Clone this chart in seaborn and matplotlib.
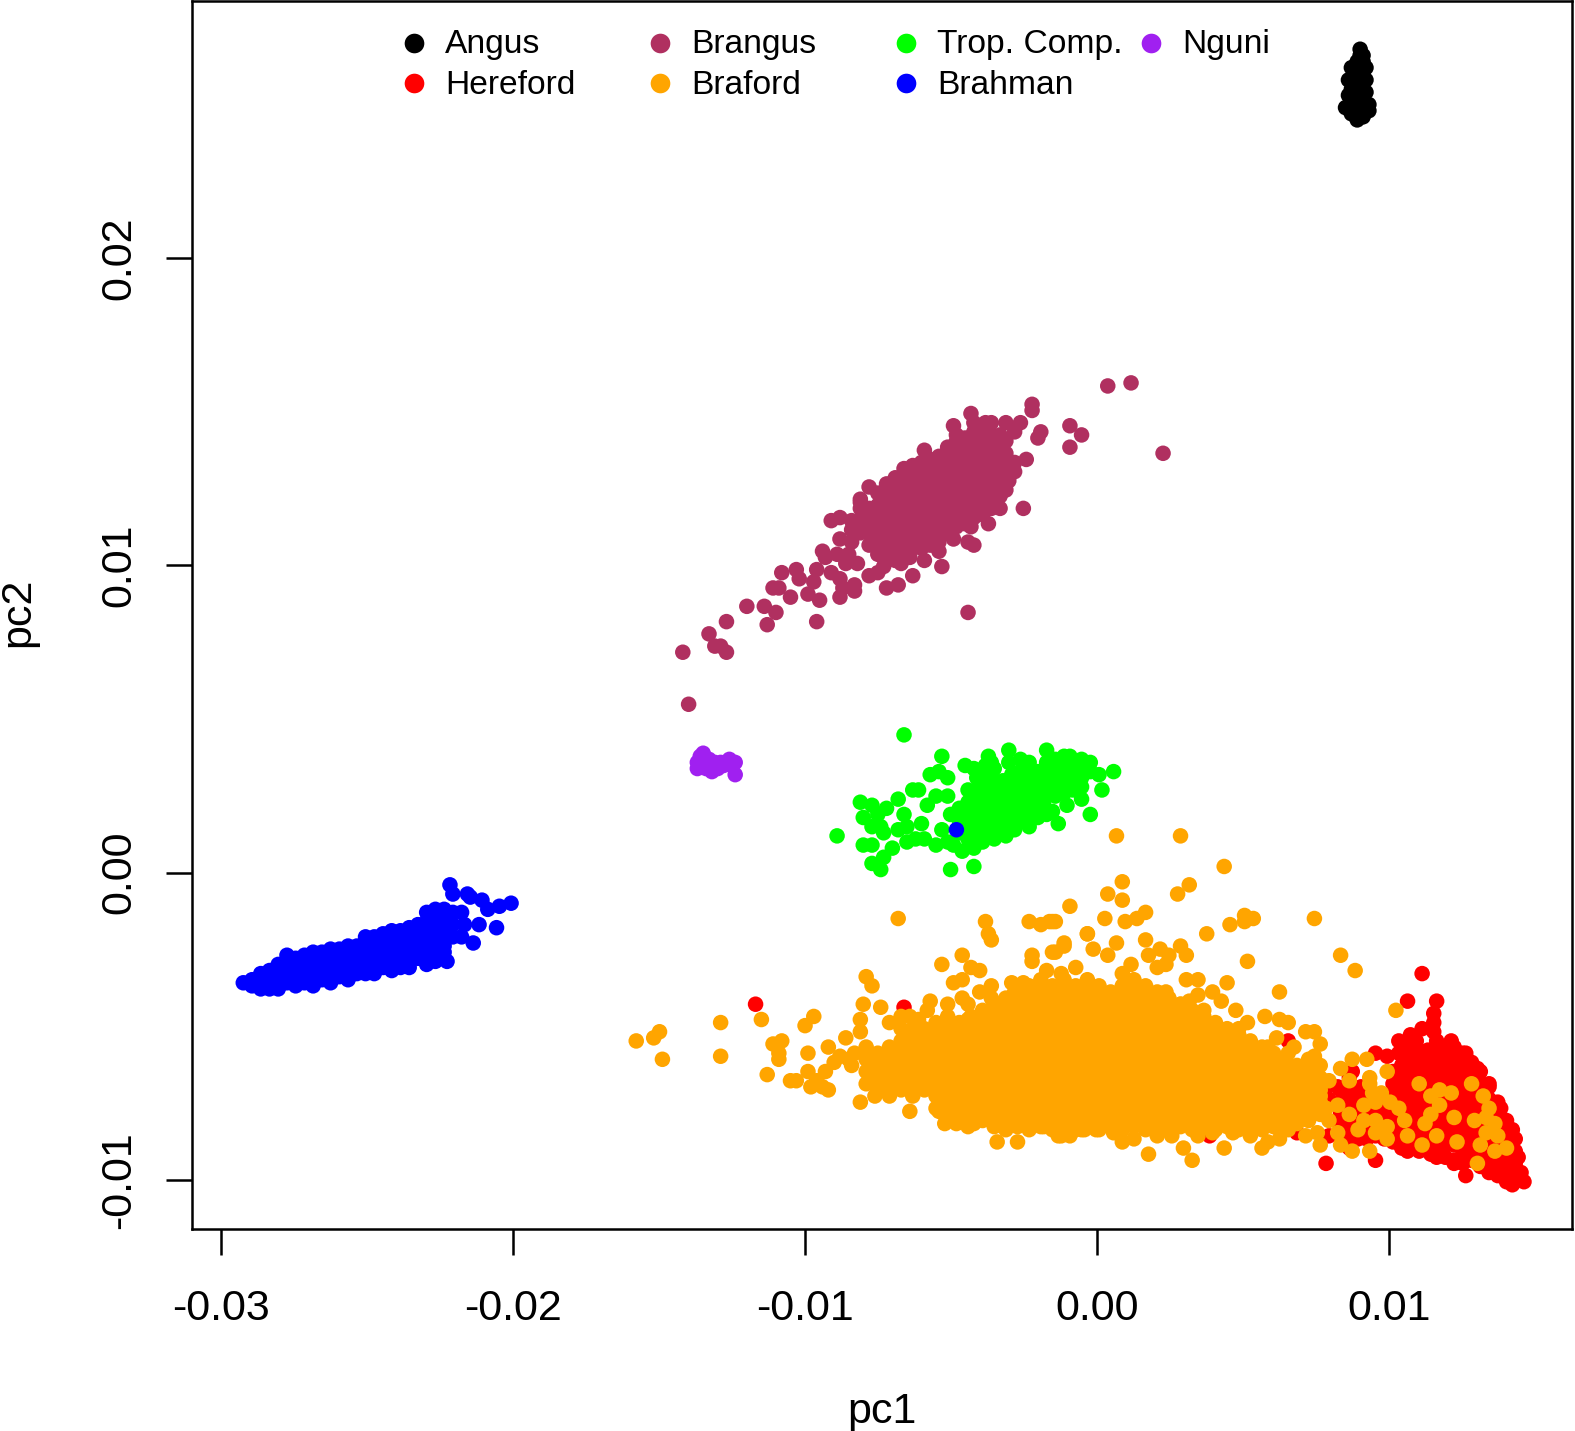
import pandas as pd
import matplotlib
matplotlib.use('Agg')
import matplotlib.pyplot as plt
import seaborn as sns

angus = [(90,268), (90,266), (91,266), (89,264), (91,264), (92,262), (87,262), (90,262), (88,260), (91,260), (86,258),
         (89,258), (92,258), (90,256), (87,255), (92,254), (86,253), (89,253), (91,253), (88,251), (91,251), (93,250),
         (85,249), (87,249), (92,249), (87,247), (90,248), (89,245), (91,246), (93,248)]

hereford_out = [(-116,-44), (-65,-45), (14,-43), (113,-34), (108,-43), (118,-43), (117,-47), (117,-50), (113,-52),
                (117,-53), (109,-54), (105,-56), (111,-56), (118,-56), (123,-56), (128,-60), (132,-65), (136,-70),
                (140,-78), (144,-85), (146,-94), (147,-99), (148,-102), (144,-103), (141,-100), (134,-97), (124,-96),
                (116,-93), (108,-92), (105,-87), (97,-60), (101,-61), (105,-60), (89,-66), (92,-71), (80,-71),
                (70,-86), (81,-87), (89,-86), (88,-91), (40,-87), (67,-56), (70,-71), (80,-96), (97,-95), (128,-100),
                (79,-71), (84,-71), (88,-74), (81,-75), (75,-71), (85,-80)]
hereford_core = [(85,[-72,-76,-80,-84]), (88,[-68,-72,-76,-80,-84,-88]), (91,[-72,-76,-80,-84,-88]),
                 (94,[-72,-76,-80,-84,-88]), (97,[-75,-79,-83,-87]), (100,[-76,-80,-84,-88]),
                 (103,[-66,-70,-74,-78,-82,-86,-89]), (106,[-60,-64,-68,-72,-76,-80,-84,-88,-91]),
                 (109,[-58,-62,-66,-70,-74,-78,-82,-86,-90]), (112,[-60,-64,-68,-72,-76,-80,-84,-88,-92]),
                 (115,[-59,-63,-67,-71,-75,-79,-83,-87,-91]), (118,[-59,-63,-67,-71,-75,-79,-83,-87,-91,-94]),
                 (121,[-58,-62,-66,-70,-74,-78,-82,-86,-90,-94]), (124,[-58,-62,-66,-70,-74,-78,-82,-86,-90,-95]),
                 (127,[-60,-64,-68,-72,-76,-80,-84,-88,-92,-96]), (130,[-63,-67,-71,-75,-79,-83,-87,-91,-95]),
                 (133,[-66,-70,-74,-78,-82,-86,-90,-94,-97]), (136,[-71,-75,-79,-83,-87,-91,-95,-99]),
                 (139,[-76,-80,-84,-88,-92,-96,-100]), (142,[-82,-86,-90,-94,-98,-102]), (145,[-88,-92,-96,-100])]

brangus_out = [(5,158), (13,159), (24,136), (-8,145), (-4,142), (-8,138), (-21,152), (-21,150), (-18,143), (-19,141),
               (-23,134), (-27,133), (-27,130), (-29,127), (-24,118), (-36,113), (-42,112), (-43,107), (-41,106),
               (-48,108), (-53,104), (-52,99), (-58,101), (-62,96), (-67,93), (-71,92), (-43,84), (-77,125), (-90,114),
               (-87,115), (-119,86), (-126,81), (-132,77), (-141,71), (-128,73), (-130,73), (-126,71), (-139,54),
               (-112,80), (-113,86), (-109,84), (-95,81), (-110,92), (-108,92), (-104,89), (-107,97), (-102,98),
               (-101,95), (-95,98), (-96,94), (-98,90), (-94,88), (-87,89), (-82,91), (-82,93), (-86,92), (-90,97),
               (-87,95), (-77,96), (-74,97), (-72,99), (-93,104), (-92,102), (-87,108), (-88,103), (-84,103), (-81,100),
               (-85,100), (-66,100), (-63,102), (-80,120), (-58,137), (-48,145), (-42,149), (-37,146), (-30,146),
               (-25,146), (-27,143), (-30,140), (-31,136)]
brangus_core = [(-83,[107,111,114]), (-80,[110,114,118,121]), (-77,[106,110,114,118]), (-74,[103,107,111,115,119,123]),
                (-71,[102,106,110,114,118,122,126]), (-68,[101,105,109,113,117,121,125,128]),
                (-65,[103,107,111,115,119,123,127,131]), (-62,[105,109,113,117,121,125,129,132]),
                (-59,[105,109,113,117,121,125,129,133]), (-56,[106,110,114,118,122,126,130,134]),
                (-53,[107,111,115,119,123,127,131,135]), (-50,[110,114,118,122,126,130,134,138]),
                (-47,[112,116,120,124,128,132,136,140,142]), (-44,[113,117,121,125,129,133,137,141]),
                (-41,[115,119,123,127,131,135,139,143,146]), (-38,[116,120,124,128,132,136,140,144]),
                (-35,[118,122,126,130,134,138,142,146]), (-32,[118,122,126,130,134,138,142]),
                (-30,[124,128,132,136])]

braford_out = [(8,11), (30,11), (45,1), (10,-4), (5,-8), (10,-10), (33,-5), (29,-8), (-8,-12), (76,-16), (85,-28),
               (90,-33), (104,-46), (-13,-17), (4,-16), (11,-17), (15,-16), (18,-14), (-2,-21), (8,-24), (18,-23),
               (39,-21), (47,-18), (52,-15), (52,-17), (55,-16), (53,-30), (30,-25), (32,-28), (46,-37), (64,-40),
               (59,-48), (64,-49), (67,-50), (53,-50), (50,-52), (73,-53), (76,-53), (78,-57), (89,-62), (94,-62),
               (85,-65), (101,-66), (95,-68), (81,-69), (88,-69), (95,-92), (89,-92), (78,-90), (19,-93), (34,-95),
               (45,-91), (58,-91), (64,-88), (31,-91), (10,-89), (14,-88), (-10,-25), (-13,-27), (0,-26), (5,-28),
               (13,-31), (19,-28), (26,-28), (23,-26), (25,-31), (22,-32), (32,-36), (36,-36), (41,-40), (44,-43),
               (36,-41), (49,-46), (25,-40), (30,-44), (33,-43), (38,-46), (63,-55), (60,-58), (57,-62),
               (112,-70), (119,-72), (123,-73), (130,-70), (134,-74), (136,-78), (116,-74), (119,-77), (116,-80),
               (114,-83), (124,-81), (118,-87), (113,-90), (125,-89), (108,-87), (107,-82), (105,-78), (102,-76),
               (131,-82), (135,-81), (138,-83), (135,-86), (139,-87), (133,-90), (138,-92), (142,-91), (132,-96),
               (93,-77), (96,-73), (99,-73), (95,-70), (97,-76), (101,-84), (101,-88), (97,-86), (91,-85), (88,-80),
               (84,-77), (84,-86), (85,-90), (97,-82), (93,-82), (73,-87), (77,-86), (80,-78), (78,-74), (81,-82),
               (75,-68), (72,-70), (76,-61), (69,-58), (67,-60), (74,-62),
               (-157,-56), (-151,-55), (-149,-53), (-148,-62), (-128,-50), (-128,-61), (-114,-49), (-67,-16), (-110,-57),
               (-107,-56), (-108,-60), (-108,-62), (-112,-67), (-104,-69), (-102,-69), (-99,-51), (-96,-48), (-98,-60),
               (-98,-66), (-97,-71), (-95,-69), (-93,-71), (-91,-72), (-91,-58), (-92,-66), (-85,-55), (-80,-53),
               (-80,-49), (-79,-44), (-73,-45), (-78,-35), (-76,-38), (-70,-50), (-66,-48), (-63,-48), (-60,-49),
               (-57,-46), (-56,-43), (-50,-44), (-52,-31), (-48,-37), (-45,-36), (-45,-28), (-42,-32), (-39,-33),
               (-45,-42), (-43,-44), (-39,-40), (-35,-38), (-35,-42), (-37,-17), (-36,-21), (-35,-23), (-22,-17),
               (-18,-18), (-15,-17), (-14,-17), (-2,-21), (-10,-24), (-14,-27), (-21,-28), (-21,-30), (-16,-33),
               (-11,-34), (-6,-32), (-28,-37), (-24,-37), (-27,-40), (-18,-36), (-43,-49), (-80,-76), (-75,-74),
               (-70,-74), (-63,-79), (-53,-79), (-51,-83), (-47,-83), (-43,-84), (-41,-83), (-33,-89), (-26,-89),
               (-30,-85), (-12,-87), (-8,-86), (-17,-84), (-22,-85), (-3,-85), (1,-84), (-35,-81), (-11,-87), (-8,-87),
               (-4,-85), (1,-85), (7,-86), (22,-87), (27,-87), (36,-87), (41,-86), (48,-86), (54,-87), (60,-89),
               (67,-85), (-87,-61), (-84,-62), (-82,-60), (-83,-64), (-89,-63), (-79,-60)]
# upper shoulder and lower edge of the dense part
braford_edge = [(42,-50), (46,-52), (50,-54), (54,-56), (54,-60), (58,-58), (58,-62), (62,-60), (62,-64),
                (66,-62), (66,-66), (70,-64), (70,-68), (74,-66), (74,-70), (78,-64), (78,-68), (78,-72), (38,-48),
                (34,-46), (30,-44), (26,-42), (22,-40), (14,-36), (10,-34), (18,-38),
                (-54,-50), (-58,-52), (-50,-48), (-46,-50), (-62,-52), (-66,-52), (-42,-48), (-38,-46), (-34,-44),
                (-30,-42), (-26,-40), (-22,-42), (-18,-40), (-14,-38), (-10,-36),
                (-22,-38), (-54,-78), (-50,-80), (-46,-81), (-42,-80), (-38,-82), (-34,-84), (-30,-82), (-26,-84),
                (-22,-82), (-18,-84), (-14,-85), (-10,-84), (-6,-85), (-2,-84), (2,-85), (6,-84), (10,-85), (14,-84),
                (18,-85), (22,-84), (26,-85), (30,-84), (34,-85), (38,-84), (42,-85), (46,-84), (50,-85), (54,-84),
                (58,-85), (62,-84), (66,-84), (70,-83)]
braford_core = [(-78,[-58,-62,-66,-70]), (-74,[-60,-64,-68,-72]), (-70,[-58,-62,-66,-70,-73]),
                (-66,[-56,-60,-64,-68,-72]), (-62,[-54,-58,-62,-66,-70,-74]), (-58,[-56,-60,-64,-68,-72]),
                (-54,[-54,-58,-62,-66,-70,-74]), (-50,[-52,-56,-60,-64,-68,-72,-76]),
                (-46,[-54,-58,-62,-66,-70,-74,-78]), (-42,[-52,-56,-60,-64,-68,-72,-76]),
                (-38,[-50,-54,-58,-62,-66,-70,-74,-78]), (-34,[-48,-52,-56,-60,-64,-68,-72,-76,-80]),
                (-30,[-46,-50,-54,-58,-62,-66,-70,-74,-78]), (-26,[-44,-48,-52,-56,-60,-64,-68,-72,-76,-80]),
                (-22,[-46,-50,-54,-58,-62,-66,-70,-74,-78]), (-18,[-44,-48,-52,-56,-60,-64,-68,-72,-76,-80]),
                (-14,[-42,-46,-50,-54,-58,-62,-66,-70,-74,-78,-82]), (-10,[-40,-44,-48,-52,-56,-60,-64,-68,-72,-76,-80]),
                (-6,[-38,-42,-46,-50,-54,-58,-62,-66,-70,-74,-78,-82]),
                (-2,[-36,-40,-44,-48,-52,-56,-60,-64,-68,-72,-76,-80]),
                (2,[-38,-42,-46,-50,-54,-58,-62,-66,-70,-74,-78,-82]),
                (6,[-40,-44,-48,-52,-56,-60,-64,-68,-72,-76,-80]),
                (10,[-38,-42,-46,-50,-54,-58,-62,-66,-70,-74,-78,-82]),
                (14,[-40,-44,-48,-52,-56,-60,-64,-68,-72,-76,-80]),
                (18,[-42,-46,-50,-54,-58,-62,-66,-70,-74,-78,-82]),
                (22,[-44,-48,-52,-56,-60,-64,-68,-72,-76,-80]),
                (26,[-46,-50,-54,-58,-62,-66,-70,-74,-78,-82]), (30,[-48,-52,-56,-60,-64,-68,-72,-76,-80]),
                (34,[-50,-54,-58,-62,-66,-70,-74,-78,-82]), (38,[-52,-56,-60,-64,-68,-72,-76,-80]),
                (42,[-54,-58,-62,-66,-70,-74,-78,-82]), (46,[-56,-60,-64,-68,-72,-76,-80]),
                (50,[-58,-62,-66,-70,-74,-78,-82]), (54,[-64,-68,-72,-76,-80]), (58,[-66,-70,-74,-78,-82]),
                (62,[-68,-72,-76,-80]), (66,[-70,-74,-78,-82]), (70,[-72,-76,-80]), (74,[-74,-78,-82]), (78,[-76,-80])]

trop_out = [(-88,11), (-65,44), (-80,22), (-76,21), (-79,17), (-76,14), (-73,14), (-72,12), (-74,18), (-71,20), (-67,23),
            (-65,18), (-64,14), (-67,13), (-59,15), (-79,8), (-76,8), (-69,7), (-72,4), (-76,2), (-73,0), (-64,9),
            (-61,10), (-58,10), (-54,8), (-49,0), (-41,1), (-62,26), (-60,26), (-57,21), (-54,24), (-50,24), (-56,31),
            (-53,32), (-50,30), (-52,37), (-44,34), (-41,33), (-36,37), (-35,35), (-29,39), (-16,39), (-29,35), (-22,35),
            (7,32), (3,26), (-1,18), (-12,15), (-9,21), (-4,23), (2,31), (-1,35), (-49,18), (-52,13), (-50,9), (-48,8),
            (-45,6), (-41,7), (-38,9), (-34,10), (-30,11), (-27,13), (-22,14), (-19,17), (-16,18), (-14,19), (-17,21),
            (-8,37)]
trop_core = [(-46,[12,16,20]), (-43,[10,14,18,22,26]), (-40,[10,14,18,22,26,30]), (-37,[11,15,19,23,27,31,34]),
             (-34,[13,17,21,25,29,33]), (-31,[13,17,21,25,29]), (-28,[15,19,23,27,31]), (-25,[16,20,24,28,32,36]),
             (-22,[18,22,26,30,33]), (-19,[20,24,28,32]), (-16,[24,28,32,35]), (-13,[24,27,30,33,36]),
             (-10,[25,28,31,34,37]), (-7,[26,29,32,35]), (-4,[27,30,33,36]), (-1,[32])]

nguni = [(-136,35), (-136,33), (-135,37), (-134,38), (-134,35), (-133,33), (-132,36), (-132,34), (-131,32), (-130,35),
         (-129,33), (-128,35), (-127,34), (-125,36), (-123,35), (-123,31), (-124,34)]

brahman_out = [(-221,-5), (-220,-8), (-215,-8), (-214,-9), (-210,-10), (-204,-12), (-200,-11), (-205,-19), (-211,-18),
               (-213,-24), (-217,-22), (-208,-13), (-47,13), (-217,-14), (-216,-18), (-222,-30), (-226,-30), (-229,-31),
               (-235,-32), (-241,-33), (-247,-34)]
brahman_core = [(-292,[-37]), (-289,[-36,-38]), (-286,[-34,-37,-39]), (-283,[-33,-36,-39]), (-280,[-31,-34,-37,-39]),
                (-277,[-28,-31,-34,-37]), (-274,[-29,-32,-35,-38]), (-271,[-28,-31,-34,-37]),
                (-268,[-27,-30,-33,-36,-38]), (-265,[-27,-30,-33,-36]), (-262,[-26,-29,-32,-35,-37]),
                (-259,[-26,-29,-32,-35]), (-256,[-25,-28,-31,-34,-36]), (-253,[-25,-28,-31,-34]),
                (-250,[-22,-25,-28,-31,-34]), (-247,[-22,-25,-28,-31]), (-244,[-21,-24,-27,-30,-32]),
                (-241,[-20,-23,-26,-29,-31]), (-238,[-20,-23,-26,-29,-32]), (-235,[-19,-22,-25,-28,-30]),
                (-232,[-18,-21,-24,-27,-29]), (-229,[-14,-17,-20,-23,-26,-28]), (-226,[-13,-16,-19,-22,-25,-27]),
                (-223,[-13,-16,-19,-22,-25,-27]), (-220,[-14,-18,-22])]

breeds = ['Angus', 'Hereford', 'Brangus', 'Braford', 'Trop. Comp.', 'Nguni', 'Brahman']
colors = ['#000000', '#FF0000', '#B03060', '#FFA500', '#00FF00', '#A020F0', '#0000FF']
xticks = [-0.03, -0.02, -0.01, 0.00, 0.01]
xtick_labels = ['-0.03', '-0.02', '-0.01', '0.00', '0.01']
yticks = [-0.01, 0.00, 0.01, 0.02]
ytick_labels = ['-0.01', '0.00', '0.01', '0.02']


def flatten(columns):
    return [(x, y) for x, ys in columns for y in ys]


points = {
    'Angus': angus,
    'Hereford': flatten(hereford_core) + hereford_out,
    'Brangus': flatten(brangus_core) + brangus_out,
    'Braford': flatten(braford_core) + braford_edge + braford_out,
    'Trop. Comp.': flatten(trop_core) + trop_out,
    'Nguni': nguni,
    'Brahman': flatten(brahman_core) + brahman_out,
}
# row order is draw order, later breeds sit on top
# everything but Angus was read off crops, which needs this small correction to the axis calibration
rows = []
for b in breeds:
    for x, y in points[b]:
        if b == 'Angus':
            rows.append((b, x * 1e-4, y * 1e-4))
        else:
            rows.append((b, (x * 0.9966 - 1.4) * 1e-4, (y * 0.9962 + 1.0) * 1e-4))
df = pd.DataFrame(rows, columns=['breed', 'pc1', 'pc2'])

sns.set_theme(style='ticks')
plt.rcParams['font.family'] = ['Liberation Sans', 'DejaVu Sans']

W, H = 1575, 1431
L, R, T, B = 192, 1572, 1, 1229
fig = plt.figure(figsize=(W / 100, H / 100), dpi=100)
ax = fig.add_axes([L / W, 1 - B / H, (R - L) / W, (B - T) / H])

sns.scatterplot(data=df, x='pc1', y='pc2', hue='breed', palette=dict(zip(breeds, colors)),
                s=125, linewidth=0, legend=False, ax=ax, clip_on=True)

ax.set_xlim(-0.030997, 0.016254)
ax.set_ylim(-0.0116, 0.02837)
ax.set_xticks(xticks, xtick_labels)
ax.set_yticks(yticks, ytick_labels)
ax.tick_params(axis='x', length=19, width=1.8, pad=24, labelsize=31, color='black', labelcolor='black')
ax.tick_params(axis='y', length=19, width=1.8, pad=19, labelsize=31, color='black', labelcolor='black')
for lab in ax.get_yticklabels():
    lab.set_rotation(90)
    lab.set_va('center')
for sp in ax.spines.values():
    sp.set_visible(True)
    sp.set_linewidth(1.8)
    sp.set_color('black')

ax.set_xlabel('pc1', fontsize=31, color='black', va='center')
ax.set_ylabel('pc2', fontsize=31, color='black', va='center')
ax.xaxis.set_label_coords(0.5, -(1412 - B) / (B - T))
ax.yaxis.set_label_coords(-(L - 18) / (R - L), 0.5025)

# legend laid out by hand, R keeps equal column widths
legend_rows = {'Angus': (414, 43), 'Hereford': (414, 83), 'Brangus': (660, 43), 'Braford': (660, 83),
               'Trop. Comp.': (906, 43), 'Brahman': (906, 83), 'Nguni': (1151, 43)}
for name, (px, py) in legend_rows.items():
    ax.scatter((px - L) / (R - L), 1 - (py - T) / (B - T), s=200, linewidth=0,
               color=colors[breeds.index(name)], transform=ax.transAxes)
    ax.text((px + 31 - L) / (R - L), 1 - (py + (3 if py > 60 else 1) - T) / (B - T), name, fontsize=24.2,
            color='black', va='center', ha='left', transform=ax.transAxes)

fig.savefig('out.png', dpi=100, facecolor='white')
